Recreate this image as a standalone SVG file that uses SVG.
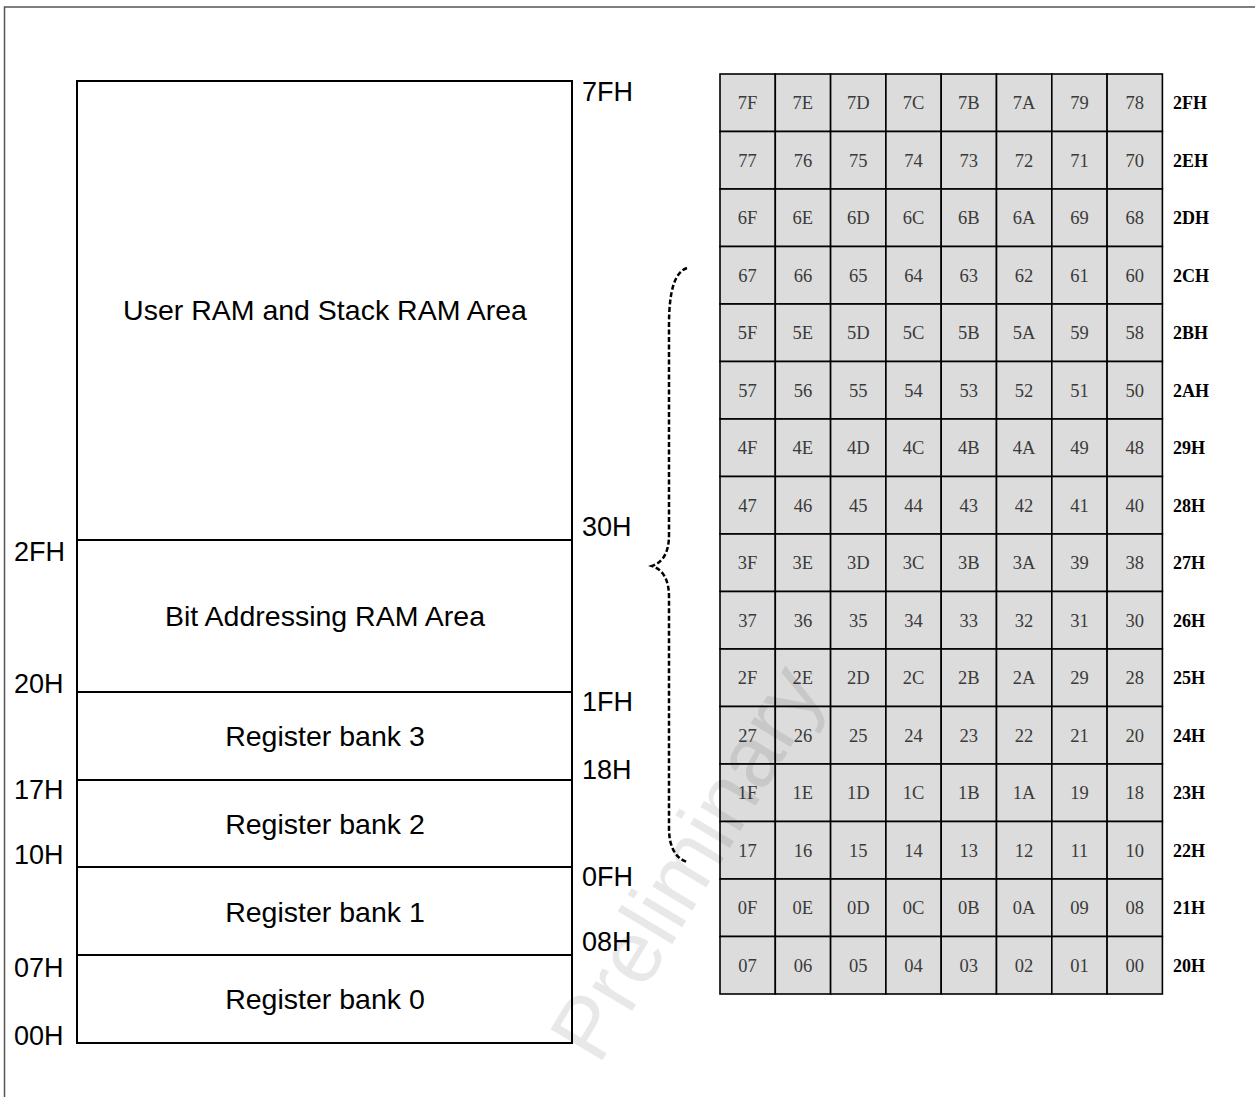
<svg xmlns="http://www.w3.org/2000/svg" width="1255" height="1097" viewBox="0 0 1255 1097">
<style>
.frame{fill:none;stroke:#555;stroke-width:1.5}
.box{fill:#fff;stroke:#000;stroke-width:2}
.div{stroke:#000;stroke-width:2}
.lbl{font-family:"Liberation Sans",Arial,sans-serif;font-size:27px;fill:#000}
.area{font-family:"Liberation Sans",Arial,sans-serif;font-size:28.5px;fill:#000;text-anchor:middle}
.cell{fill:#dcdcdc;stroke:#000;stroke-width:1.6}
.num{font-family:"Liberation Serif","Times New Roman",serif;font-size:18.5px;fill:#3a3a3a;text-anchor:middle}
.addr{font-family:"Liberation Serif","Times New Roman",serif;font-size:18px;font-weight:bold;fill:#000}
.brace{fill:none;stroke:#000;stroke-width:2.5;stroke-dasharray:5 2.5}
.wm{font-family:"Liberation Sans",Arial,sans-serif;font-size:88px;fill:#000;fill-opacity:0.09;text-anchor:middle}
</style>
<rect x="0" y="0" width="1255" height="1097" fill="#fff"/>
<rect class="frame" x="4.5" y="7" width="1300" height="1200"/>
<g id="memory-map">
<rect class="box" x="77" y="81" width="495" height="962"/>
<line class="div" x1="77" y1="540" x2="572" y2="540"/>
<line class="div" x1="77" y1="692" x2="572" y2="692"/>
<line class="div" x1="77" y1="780" x2="572" y2="780"/>
<line class="div" x1="77" y1="867" x2="572" y2="867"/>
<line class="div" x1="77" y1="955" x2="572" y2="955"/>
<text class="area" x="325" y="320">User RAM and Stack RAM Area</text>
<text class="area" x="325" y="626">Bit Addressing RAM Area</text>
<text class="area" x="325" y="746">Register bank 3</text>
<text class="area" x="325" y="834">Register bank 2</text>
<text class="area" x="325" y="922">Register bank 1</text>
<text class="area" x="325" y="1009">Register bank 0</text>
<text class="lbl" x="582" y="101">7FH</text>
<text class="lbl" x="582" y="536">30H</text>
<text class="lbl" x="582" y="711">1FH</text>
<text class="lbl" x="582" y="779">18H</text>
<text class="lbl" x="582" y="886">0FH</text>
<text class="lbl" x="582" y="951">08H</text>
<text class="lbl" x="14" y="561">2FH</text>
<text class="lbl" x="14" y="693">20H</text>
<text class="lbl" x="14" y="799">17H</text>
<text class="lbl" x="14" y="864">10H</text>
<text class="lbl" x="14" y="977">07H</text>
<text class="lbl" x="14" y="1045">00H</text>
</g>
<g id="connectors">
<path class="brace" d="M687,268 C675,272 669,290 669,325 L669,535 C669,555 661,563 652,566 C661,569 669,577 669,597 L669,828 C669,846 675,858 687,862"/>
</g>
<g id="bit-grid">
<g id="row-2F"><rect class="cell" x="720" y="74" width="55.3" height="57.5"/><rect class="cell" x="775.3" y="74" width="55.3" height="57.5"/><rect class="cell" x="830.6" y="74" width="55.3" height="57.5"/><rect class="cell" x="885.9" y="74" width="55.3" height="57.5"/><rect class="cell" x="941.2" y="74" width="55.3" height="57.5"/><rect class="cell" x="996.5" y="74" width="55.3" height="57.5"/><rect class="cell" x="1051.8" y="74" width="55.3" height="57.5"/><rect class="cell" x="1107.1" y="74" width="55.3" height="57.5"/>
<text class="num" x="747.6" y="109">7F</text><text class="num" x="802.9" y="109">7E</text><text class="num" x="858.2" y="109">7D</text><text class="num" x="913.5" y="109">7C</text><text class="num" x="968.8" y="109">7B</text><text class="num" x="1024.1" y="109">7A</text><text class="num" x="1079.4" y="109">79</text><text class="num" x="1134.7" y="109">78</text><text class="addr" x="1173" y="109">2FH</text></g>
<g id="row-2E"><rect class="cell" x="720" y="131.5" width="55.3" height="57.5"/><rect class="cell" x="775.3" y="131.5" width="55.3" height="57.5"/><rect class="cell" x="830.6" y="131.5" width="55.3" height="57.5"/><rect class="cell" x="885.9" y="131.5" width="55.3" height="57.5"/><rect class="cell" x="941.2" y="131.5" width="55.3" height="57.5"/><rect class="cell" x="996.5" y="131.5" width="55.3" height="57.5"/><rect class="cell" x="1051.8" y="131.5" width="55.3" height="57.5"/><rect class="cell" x="1107.1" y="131.5" width="55.3" height="57.5"/>
<text class="num" x="747.6" y="166.5">77</text><text class="num" x="802.9" y="166.5">76</text><text class="num" x="858.2" y="166.5">75</text><text class="num" x="913.5" y="166.5">74</text><text class="num" x="968.8" y="166.5">73</text><text class="num" x="1024.1" y="166.5">72</text><text class="num" x="1079.4" y="166.5">71</text><text class="num" x="1134.7" y="166.5">70</text><text class="addr" x="1173" y="166.5">2EH</text></g>
<g id="row-2D"><rect class="cell" x="720" y="189" width="55.3" height="57.5"/><rect class="cell" x="775.3" y="189" width="55.3" height="57.5"/><rect class="cell" x="830.6" y="189" width="55.3" height="57.5"/><rect class="cell" x="885.9" y="189" width="55.3" height="57.5"/><rect class="cell" x="941.2" y="189" width="55.3" height="57.5"/><rect class="cell" x="996.5" y="189" width="55.3" height="57.5"/><rect class="cell" x="1051.8" y="189" width="55.3" height="57.5"/><rect class="cell" x="1107.1" y="189" width="55.3" height="57.5"/>
<text class="num" x="747.6" y="224">6F</text><text class="num" x="802.9" y="224">6E</text><text class="num" x="858.2" y="224">6D</text><text class="num" x="913.5" y="224">6C</text><text class="num" x="968.8" y="224">6B</text><text class="num" x="1024.1" y="224">6A</text><text class="num" x="1079.4" y="224">69</text><text class="num" x="1134.7" y="224">68</text><text class="addr" x="1173" y="224">2DH</text></g>
<g id="row-2C"><rect class="cell" x="720" y="246.5" width="55.3" height="57.5"/><rect class="cell" x="775.3" y="246.5" width="55.3" height="57.5"/><rect class="cell" x="830.6" y="246.5" width="55.3" height="57.5"/><rect class="cell" x="885.9" y="246.5" width="55.3" height="57.5"/><rect class="cell" x="941.2" y="246.5" width="55.3" height="57.5"/><rect class="cell" x="996.5" y="246.5" width="55.3" height="57.5"/><rect class="cell" x="1051.8" y="246.5" width="55.3" height="57.5"/><rect class="cell" x="1107.1" y="246.5" width="55.3" height="57.5"/>
<text class="num" x="747.6" y="281.5">67</text><text class="num" x="802.9" y="281.5">66</text><text class="num" x="858.2" y="281.5">65</text><text class="num" x="913.5" y="281.5">64</text><text class="num" x="968.8" y="281.5">63</text><text class="num" x="1024.1" y="281.5">62</text><text class="num" x="1079.4" y="281.5">61</text><text class="num" x="1134.7" y="281.5">60</text><text class="addr" x="1173" y="281.5">2CH</text></g>
<g id="row-2B"><rect class="cell" x="720" y="304" width="55.3" height="57.5"/><rect class="cell" x="775.3" y="304" width="55.3" height="57.5"/><rect class="cell" x="830.6" y="304" width="55.3" height="57.5"/><rect class="cell" x="885.9" y="304" width="55.3" height="57.5"/><rect class="cell" x="941.2" y="304" width="55.3" height="57.5"/><rect class="cell" x="996.5" y="304" width="55.3" height="57.5"/><rect class="cell" x="1051.8" y="304" width="55.3" height="57.5"/><rect class="cell" x="1107.1" y="304" width="55.3" height="57.5"/>
<text class="num" x="747.6" y="339">5F</text><text class="num" x="802.9" y="339">5E</text><text class="num" x="858.2" y="339">5D</text><text class="num" x="913.5" y="339">5C</text><text class="num" x="968.8" y="339">5B</text><text class="num" x="1024.1" y="339">5A</text><text class="num" x="1079.4" y="339">59</text><text class="num" x="1134.7" y="339">58</text><text class="addr" x="1173" y="339">2BH</text></g>
<g id="row-2A"><rect class="cell" x="720" y="361.5" width="55.3" height="57.5"/><rect class="cell" x="775.3" y="361.5" width="55.3" height="57.5"/><rect class="cell" x="830.6" y="361.5" width="55.3" height="57.5"/><rect class="cell" x="885.9" y="361.5" width="55.3" height="57.5"/><rect class="cell" x="941.2" y="361.5" width="55.3" height="57.5"/><rect class="cell" x="996.5" y="361.5" width="55.3" height="57.5"/><rect class="cell" x="1051.8" y="361.5" width="55.3" height="57.5"/><rect class="cell" x="1107.1" y="361.5" width="55.3" height="57.5"/>
<text class="num" x="747.6" y="396.5">57</text><text class="num" x="802.9" y="396.5">56</text><text class="num" x="858.2" y="396.5">55</text><text class="num" x="913.5" y="396.5">54</text><text class="num" x="968.8" y="396.5">53</text><text class="num" x="1024.1" y="396.5">52</text><text class="num" x="1079.4" y="396.5">51</text><text class="num" x="1134.7" y="396.5">50</text><text class="addr" x="1173" y="396.5">2AH</text></g>
<g id="row-29"><rect class="cell" x="720" y="419" width="55.3" height="57.5"/><rect class="cell" x="775.3" y="419" width="55.3" height="57.5"/><rect class="cell" x="830.6" y="419" width="55.3" height="57.5"/><rect class="cell" x="885.9" y="419" width="55.3" height="57.5"/><rect class="cell" x="941.2" y="419" width="55.3" height="57.5"/><rect class="cell" x="996.5" y="419" width="55.3" height="57.5"/><rect class="cell" x="1051.8" y="419" width="55.3" height="57.5"/><rect class="cell" x="1107.1" y="419" width="55.3" height="57.5"/>
<text class="num" x="747.6" y="454">4F</text><text class="num" x="802.9" y="454">4E</text><text class="num" x="858.2" y="454">4D</text><text class="num" x="913.5" y="454">4C</text><text class="num" x="968.8" y="454">4B</text><text class="num" x="1024.1" y="454">4A</text><text class="num" x="1079.4" y="454">49</text><text class="num" x="1134.7" y="454">48</text><text class="addr" x="1173" y="454">29H</text></g>
<g id="row-28"><rect class="cell" x="720" y="476.5" width="55.3" height="57.5"/><rect class="cell" x="775.3" y="476.5" width="55.3" height="57.5"/><rect class="cell" x="830.6" y="476.5" width="55.3" height="57.5"/><rect class="cell" x="885.9" y="476.5" width="55.3" height="57.5"/><rect class="cell" x="941.2" y="476.5" width="55.3" height="57.5"/><rect class="cell" x="996.5" y="476.5" width="55.3" height="57.5"/><rect class="cell" x="1051.8" y="476.5" width="55.3" height="57.5"/><rect class="cell" x="1107.1" y="476.5" width="55.3" height="57.5"/>
<text class="num" x="747.6" y="511.5">47</text><text class="num" x="802.9" y="511.5">46</text><text class="num" x="858.2" y="511.5">45</text><text class="num" x="913.5" y="511.5">44</text><text class="num" x="968.8" y="511.5">43</text><text class="num" x="1024.1" y="511.5">42</text><text class="num" x="1079.4" y="511.5">41</text><text class="num" x="1134.7" y="511.5">40</text><text class="addr" x="1173" y="511.5">28H</text></g>
<g id="row-27"><rect class="cell" x="720" y="534" width="55.3" height="57.5"/><rect class="cell" x="775.3" y="534" width="55.3" height="57.5"/><rect class="cell" x="830.6" y="534" width="55.3" height="57.5"/><rect class="cell" x="885.9" y="534" width="55.3" height="57.5"/><rect class="cell" x="941.2" y="534" width="55.3" height="57.5"/><rect class="cell" x="996.5" y="534" width="55.3" height="57.5"/><rect class="cell" x="1051.8" y="534" width="55.3" height="57.5"/><rect class="cell" x="1107.1" y="534" width="55.3" height="57.5"/>
<text class="num" x="747.6" y="569">3F</text><text class="num" x="802.9" y="569">3E</text><text class="num" x="858.2" y="569">3D</text><text class="num" x="913.5" y="569">3C</text><text class="num" x="968.8" y="569">3B</text><text class="num" x="1024.1" y="569">3A</text><text class="num" x="1079.4" y="569">39</text><text class="num" x="1134.7" y="569">38</text><text class="addr" x="1173" y="569">27H</text></g>
<g id="row-26"><rect class="cell" x="720" y="591.5" width="55.3" height="57.5"/><rect class="cell" x="775.3" y="591.5" width="55.3" height="57.5"/><rect class="cell" x="830.6" y="591.5" width="55.3" height="57.5"/><rect class="cell" x="885.9" y="591.5" width="55.3" height="57.5"/><rect class="cell" x="941.2" y="591.5" width="55.3" height="57.5"/><rect class="cell" x="996.5" y="591.5" width="55.3" height="57.5"/><rect class="cell" x="1051.8" y="591.5" width="55.3" height="57.5"/><rect class="cell" x="1107.1" y="591.5" width="55.3" height="57.5"/>
<text class="num" x="747.6" y="626.5">37</text><text class="num" x="802.9" y="626.5">36</text><text class="num" x="858.2" y="626.5">35</text><text class="num" x="913.5" y="626.5">34</text><text class="num" x="968.8" y="626.5">33</text><text class="num" x="1024.1" y="626.5">32</text><text class="num" x="1079.4" y="626.5">31</text><text class="num" x="1134.7" y="626.5">30</text><text class="addr" x="1173" y="626.5">26H</text></g>
<g id="row-25"><rect class="cell" x="720" y="649" width="55.3" height="57.5"/><rect class="cell" x="775.3" y="649" width="55.3" height="57.5"/><rect class="cell" x="830.6" y="649" width="55.3" height="57.5"/><rect class="cell" x="885.9" y="649" width="55.3" height="57.5"/><rect class="cell" x="941.2" y="649" width="55.3" height="57.5"/><rect class="cell" x="996.5" y="649" width="55.3" height="57.5"/><rect class="cell" x="1051.8" y="649" width="55.3" height="57.5"/><rect class="cell" x="1107.1" y="649" width="55.3" height="57.5"/>
<text class="num" x="747.6" y="684">2F</text><text class="num" x="802.9" y="684">2E</text><text class="num" x="858.2" y="684">2D</text><text class="num" x="913.5" y="684">2C</text><text class="num" x="968.8" y="684">2B</text><text class="num" x="1024.1" y="684">2A</text><text class="num" x="1079.4" y="684">29</text><text class="num" x="1134.7" y="684">28</text><text class="addr" x="1173" y="684">25H</text></g>
<g id="row-24"><rect class="cell" x="720" y="706.5" width="55.3" height="57.5"/><rect class="cell" x="775.3" y="706.5" width="55.3" height="57.5"/><rect class="cell" x="830.6" y="706.5" width="55.3" height="57.5"/><rect class="cell" x="885.9" y="706.5" width="55.3" height="57.5"/><rect class="cell" x="941.2" y="706.5" width="55.3" height="57.5"/><rect class="cell" x="996.5" y="706.5" width="55.3" height="57.5"/><rect class="cell" x="1051.8" y="706.5" width="55.3" height="57.5"/><rect class="cell" x="1107.1" y="706.5" width="55.3" height="57.5"/>
<text class="num" x="747.6" y="741.5">27</text><text class="num" x="802.9" y="741.5">26</text><text class="num" x="858.2" y="741.5">25</text><text class="num" x="913.5" y="741.5">24</text><text class="num" x="968.8" y="741.5">23</text><text class="num" x="1024.1" y="741.5">22</text><text class="num" x="1079.4" y="741.5">21</text><text class="num" x="1134.7" y="741.5">20</text><text class="addr" x="1173" y="741.5">24H</text></g>
<g id="row-23"><rect class="cell" x="720" y="764" width="55.3" height="57.5"/><rect class="cell" x="775.3" y="764" width="55.3" height="57.5"/><rect class="cell" x="830.6" y="764" width="55.3" height="57.5"/><rect class="cell" x="885.9" y="764" width="55.3" height="57.5"/><rect class="cell" x="941.2" y="764" width="55.3" height="57.5"/><rect class="cell" x="996.5" y="764" width="55.3" height="57.5"/><rect class="cell" x="1051.8" y="764" width="55.3" height="57.5"/><rect class="cell" x="1107.1" y="764" width="55.3" height="57.5"/>
<text class="num" x="747.6" y="799">1F</text><text class="num" x="802.9" y="799">1E</text><text class="num" x="858.2" y="799">1D</text><text class="num" x="913.5" y="799">1C</text><text class="num" x="968.8" y="799">1B</text><text class="num" x="1024.1" y="799">1A</text><text class="num" x="1079.4" y="799">19</text><text class="num" x="1134.7" y="799">18</text><text class="addr" x="1173" y="799">23H</text></g>
<g id="row-22"><rect class="cell" x="720" y="821.5" width="55.3" height="57.5"/><rect class="cell" x="775.3" y="821.5" width="55.3" height="57.5"/><rect class="cell" x="830.6" y="821.5" width="55.3" height="57.5"/><rect class="cell" x="885.9" y="821.5" width="55.3" height="57.5"/><rect class="cell" x="941.2" y="821.5" width="55.3" height="57.5"/><rect class="cell" x="996.5" y="821.5" width="55.3" height="57.5"/><rect class="cell" x="1051.8" y="821.5" width="55.3" height="57.5"/><rect class="cell" x="1107.1" y="821.5" width="55.3" height="57.5"/>
<text class="num" x="747.6" y="856.5">17</text><text class="num" x="802.9" y="856.5">16</text><text class="num" x="858.2" y="856.5">15</text><text class="num" x="913.5" y="856.5">14</text><text class="num" x="968.8" y="856.5">13</text><text class="num" x="1024.1" y="856.5">12</text><text class="num" x="1079.4" y="856.5">11</text><text class="num" x="1134.7" y="856.5">10</text><text class="addr" x="1173" y="856.5">22H</text></g>
<g id="row-21"><rect class="cell" x="720" y="879" width="55.3" height="57.5"/><rect class="cell" x="775.3" y="879" width="55.3" height="57.5"/><rect class="cell" x="830.6" y="879" width="55.3" height="57.5"/><rect class="cell" x="885.9" y="879" width="55.3" height="57.5"/><rect class="cell" x="941.2" y="879" width="55.3" height="57.5"/><rect class="cell" x="996.5" y="879" width="55.3" height="57.5"/><rect class="cell" x="1051.8" y="879" width="55.3" height="57.5"/><rect class="cell" x="1107.1" y="879" width="55.3" height="57.5"/>
<text class="num" x="747.6" y="914">0F</text><text class="num" x="802.9" y="914">0E</text><text class="num" x="858.2" y="914">0D</text><text class="num" x="913.5" y="914">0C</text><text class="num" x="968.8" y="914">0B</text><text class="num" x="1024.1" y="914">0A</text><text class="num" x="1079.4" y="914">09</text><text class="num" x="1134.7" y="914">08</text><text class="addr" x="1173" y="914">21H</text></g>
<g id="row-20"><rect class="cell" x="720" y="936.5" width="55.3" height="57.5"/><rect class="cell" x="775.3" y="936.5" width="55.3" height="57.5"/><rect class="cell" x="830.6" y="936.5" width="55.3" height="57.5"/><rect class="cell" x="885.9" y="936.5" width="55.3" height="57.5"/><rect class="cell" x="941.2" y="936.5" width="55.3" height="57.5"/><rect class="cell" x="996.5" y="936.5" width="55.3" height="57.5"/><rect class="cell" x="1051.8" y="936.5" width="55.3" height="57.5"/><rect class="cell" x="1107.1" y="936.5" width="55.3" height="57.5"/>
<text class="num" x="747.6" y="971.5">07</text><text class="num" x="802.9" y="971.5">06</text><text class="num" x="858.2" y="971.5">05</text><text class="num" x="913.5" y="971.5">04</text><text class="num" x="968.8" y="971.5">03</text><text class="num" x="1024.1" y="971.5">02</text><text class="num" x="1079.4" y="971.5">01</text><text class="num" x="1134.7" y="971.5">00</text><text class="addr" x="1173" y="971.5">20H</text></g>
</g>
<text class="wm" transform="translate(712,878) rotate(-59)">Preliminary</text>
</svg>
